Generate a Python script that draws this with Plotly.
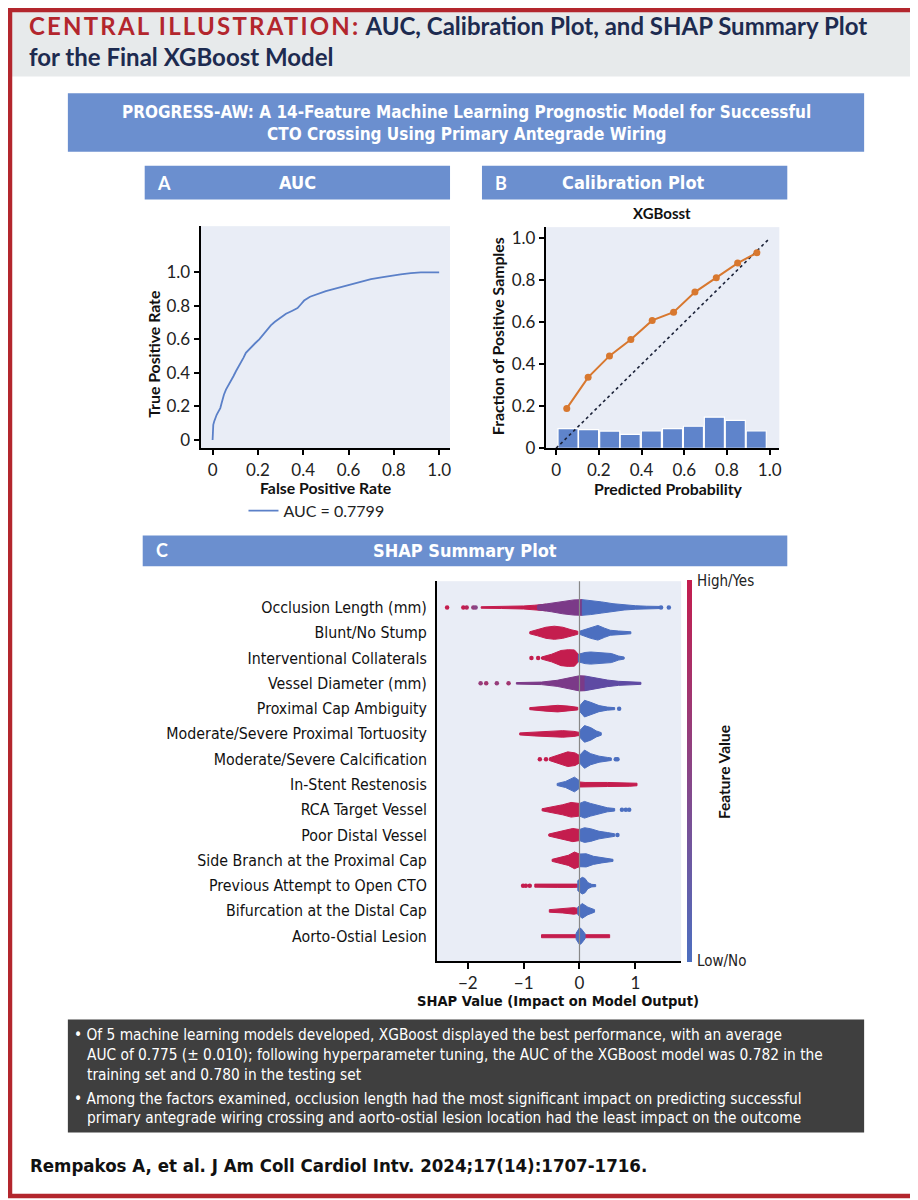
import plotly.graph_objects as go

W, H = 918, 1200


def px(x):
    return x / W


def py(y):
    return 1 - y / H


# ---------------- data ----------------
# Panel A: ROC curve
fpr = [0, 0, 0.003, 0.007, 0.012, 0.018, 0.022, 0.03, 0.034, 0.04,
       0.044, 0.05, 0.059, 0.07, 0.081, 0.092, 0.103, 0.114, 0.125, 0.136,
       0.147, 0.16, 0.176, 0.19, 0.206, 0.218, 0.228, 0.243, 0.257, 0.275,
       0.294, 0.31, 0.324, 0.35, 0.375, 0.39, 0.404, 0.43, 0.463, 0.5,
       0.537, 0.575, 0.61, 0.655, 0.699, 0.745, 0.787, 0.83, 0.875, 0.9,
       0.919, 0.96, 1.0]
tpr = [0, 0.053, 0.09, 0.11, 0.135, 0.15, 0.16, 0.175, 0.19, 0.22,
       0.25, 0.27, 0.30, 0.325, 0.35, 0.38, 0.41, 0.435, 0.46, 0.49,
       0.52, 0.54, 0.56, 0.58, 0.60, 0.62, 0.635, 0.66, 0.684, 0.705,
       0.724, 0.74, 0.753, 0.77, 0.787, 0.81, 0.832, 0.855, 0.872, 0.888,
       0.901, 0.915, 0.931, 0.946, 0.96, 0.97, 0.98, 0.988, 0.996, 1.0,
       1.0, 1.0, 1.0]
auc_label = "AUC = 0.7799"

# Panel B: calibration
cal_pred = [0.05, 0.15, 0.25, 0.35, 0.45, 0.55, 0.65, 0.75, 0.85, 0.94]
cal_frac = [0.19, 0.338, 0.44, 0.518, 0.609, 0.648, 0.744, 0.812, 0.882, 0.931]
hist_centers = [0.056, 0.152, 0.251, 0.347, 0.446, 0.545, 0.643, 0.741, 0.839, 0.937]
hist_heights = [0.094, 0.089, 0.082, 0.066, 0.083, 0.094, 0.105, 0.148, 0.133, 0.083]
diag = [0, 1]

# Panel C: SHAP summary (envelopes of swarms)
features = ["Occlusion Length (mm)", "Blunt/No Stump", "Interventional Collaterals",
            "Vessel Diameter (mm)", "Proximal Cap Ambiguity",
            "Moderate/Severe Proximal Tortuosity", "Moderate/Severe Calcification",
            "In-Stent Restenosis", "RCA Target Vessel", "Poor Distal Vessel",
            "Side Branch at the Proximal Cap", "Previous Attempt to Open CTO",
            "Bifurcation at the Distal Cap", "Aorto-Ostial Lesion"]

# (row, shap x positions, half thickness in row units)
red_swarms = [
    (0, [-1.76, -1.4, -1.0, -0.8, -0.6], [0.03, 0.04, 0.06, 0.09, 0.13]),
    (1, [-0.89, -0.75, -0.6, -0.45, -0.3, -0.15, -0.03], [0.04, 0.12, 0.22, 0.26, 0.22, 0.12, 0.06]),
    (2, [-0.68, -0.5, -0.33, -0.2, -0.09, -0.02], [0.04, 0.15, 0.3, 0.33, 0.32, 0.15]),
    (4, [-0.89, -0.6, -0.39, -0.2, -0.03], [0.04, 0.1, 0.13, 0.1, 0.05]),
    (5, [-1.07, -0.8, -0.5, -0.3, -0.1, 0.0], [0.04, 0.08, 0.12, 0.13, 0.1, 0.06]),
    (6, [-0.54, -0.4, -0.21, -0.08, 0.0], [0.05, 0.15, 0.29, 0.25, 0.15]),
    (7, [0.0, 0.1, 0.5, 0.9, 1.03], [0.1, 0.08, 0.08, 0.07, 0.05]),
    (8, [-0.67, -0.5, -0.3, -0.15, 0.0], [0.04, 0.1, 0.2, 0.29, 0.25]),
    (9, [-0.55, -0.4, -0.25, -0.12, 0.0], [0.04, 0.12, 0.2, 0.26, 0.22]),
    (10, [-0.49, -0.35, -0.2, -0.09, 0.0], [0.04, 0.12, 0.2, 0.33, 0.25]),
    (11, [-0.8, -0.4, -0.1, -0.03], [0.06, 0.07, 0.07, 0.06]),
    (12, [-0.54, -0.3, -0.1, -0.03], [0.05, 0.08, 0.13, 0.1]),
    (13, [-0.68, -0.3, 0.0, 0.3, 0.54], [0.06, 0.065, 0.065, 0.065, 0.06]),
]
purple_swarms = [
    (0, [-0.75, -0.5, -0.3, -0.1, 0.05], [0.09, 0.17, 0.25, 0.3, 0.31]),
    (3, [-1.13, -0.9, -0.68, -0.4, -0.2, 0.0, 0.1], [0.03, 0.04, 0.05, 0.12, 0.22, 0.3, 0.29]),
]
bluepurple_swarms = [
    (3, [0.1, 0.3, 0.5, 0.7, 0.9, 1.1], [0.29, 0.2, 0.13, 0.08, 0.05, 0.04]),
]
blue_swarms = [
    (0, [0.05, 0.2, 0.4, 0.6, 0.8, 1.0, 1.2, 1.48], [0.31, 0.28, 0.22, 0.15, 0.1, 0.07, 0.05, 0.04]),
    (1, [0.0, 0.1, 0.2, 0.33, 0.45, 0.55, 0.7, 0.92], [0.06, 0.13, 0.22, 0.29, 0.18, 0.1, 0.07, 0.04]),
    (2, [-0.02, 0.1, 0.2, 0.4, 0.57, 0.7, 0.8], [0.15, 0.22, 0.24, 0.22, 0.18, 0.08, 0.04]),
    (4, [0.0, 0.09, 0.2, 0.35, 0.5, 0.63], [0.1, 0.33, 0.25, 0.12, 0.06, 0.04]),
    (5, [0.0, 0.09, 0.2, 0.3, 0.39], [0.12, 0.33, 0.25, 0.12, 0.05]),
    (6, [0.0, 0.09, 0.2, 0.35, 0.5, 0.57], [0.15, 0.36, 0.22, 0.12, 0.07, 0.05]),
    (7, [-0.4, -0.25, -0.09, 0.0], [0.04, 0.12, 0.29, 0.15]),
    (8, [0.0, 0.09, 0.2, 0.35, 0.5, 0.63], [0.25, 0.33, 0.25, 0.15, 0.08, 0.05]),
    (9, [0.0, 0.09, 0.2, 0.35, 0.5, 0.63], [0.22, 0.29, 0.25, 0.15, 0.1, 0.05]),
    (10, [0.0, 0.12, 0.25, 0.4, 0.55, 0.6], [0.25, 0.26, 0.16, 0.1, 0.05, 0.04]),
    (11, [-0.03, 0.05, 0.1, 0.15, 0.22, 0.29], [0.2, 0.33, 0.28, 0.12, 0.05, 0.04]),
    (12, [-0.03, 0.05, 0.15, 0.27], [0.15, 0.29, 0.15, 0.05]),
    (13, [-0.06, 0.0, 0.03, 0.1], [0.12, 0.33, 0.3, 0.1]),
]
# isolated dots
dot_x = [-2.37, -2.08, -2.02, -1.9, -1.86, 1.46, 1.6,
         -0.86, -0.74,
         -1.77, -1.67, -1.48, -1.27,
         0.71, -0.71, -0.6, 0.65, 0.68,
         0.76, 0.83, 0.89, 0.68,
         -1.01, -0.96, -0.89]
dot_row = [0, 0, 0, 0, 0, 0, 0,
           2, 2,
           3, 3, 3, 3,
           4, 6, 6, 6, 6,
           8, 8, 8, 9,
           11, 11, 11]
dot_val = [1.0, 1.0, 0.9, 0.6, 0.5, 0.0, 0.0,
           1.0, 1.0,
           0.6, 0.7, 0.6, 0.7,
           0.0, 1.0, 1.0, 0.0, 0.0,
           0.0, 0.0, 0.0, 0.0,
           1.0, 1.0, 1.0]

# ---------------- styles ----------------
RED = "#c41d4e"
BLUE = "#4c6fc0"
PURPLE = "#7b3a88"
BLUEPURPLE = "#5e4aa3"
HEAD = "#6b8fcf"
PLOTBG = "#e9edf6"
NAVY = "#1d2b50"
TICKFONT = dict(family="Lato, Open Sans, sans-serif", size=17, color="#222222")
COND = "Liberation Sans Narrow, DejaVu Sans Condensed, Roboto, sans-serif"
SHAP_SCALE = [[0, BLUE], [0.5, "#8a4586"], [1, RED]]

fig = go.Figure()

# Panel A
fig.add_trace(go.Scatter(x=fpr, y=tpr, mode="lines", name=auc_label,
                         line=dict(color="#5b80c8", width=1.8),
                         xaxis="x", yaxis="y", showlegend=True))

# Panel B
fig.add_trace(go.Bar(x=hist_centers, y=hist_heights, width=0.094,
                     marker=dict(color="#5f84cb", line=dict(color="white", width=1.2)),
                     xaxis="x2", yaxis="y2", showlegend=False))
fig.add_trace(go.Scatter(x=diag, y=diag, mode="lines",
                         line=dict(color="#1b2238", width=1.6, dash="dot"),
                         xaxis="x2", yaxis="y2", showlegend=False))
fig.add_trace(go.Scatter(x=cal_pred, y=cal_frac, mode="lines+markers",
                         line=dict(color="#d8782f", width=2),
                         marker=dict(color="#d8782f", size=7),
                         xaxis="x2", yaxis="y2", showlegend=False))


# Panel C swarms
def swarm_trace(items, color):
    X, Y = [], []
    for row, xs, hs in items:
        X += list(xs) + list(xs[::-1]) + [xs[0], None]
        Y += [row - h for h in hs] + [row + h for h in hs[::-1]] + [row - hs[0], None]
    return go.Scatter(x=X, y=Y, mode="lines", fill="toself", fillcolor=color,
                      line=dict(color=color, width=1), xaxis="x3", yaxis="y3",
                      hoverinfo="skip", showlegend=False)


fig.add_trace(swarm_trace(red_swarms, RED))
fig.add_trace(swarm_trace(purple_swarms, PURPLE))
fig.add_trace(swarm_trace(bluepurple_swarms, BLUEPURPLE))
fig.add_trace(swarm_trace(blue_swarms, BLUE))
fig.add_trace(go.Scatter(x=dot_x, y=dot_row, mode="markers",
                         marker=dict(size=4.5, color=dot_val, colorscale=SHAP_SCALE,
                                     cmin=0, cmax=1),
                         xaxis="x3", yaxis="y3", showlegend=False))
# colorbar carrier (point outside the visible range)
fig.add_trace(go.Scatter(x=[0], y=[-5], mode="markers",
                         marker=dict(size=1, color=[0], colorscale=SHAP_SCALE, cmin=0, cmax=1,
                                     showscale=True,
                                     colorbar=dict(x=px(680), xanchor="left", xpad=0, ypad=0,
                                                   y=py((577 + 962) / 2), yanchor="middle",
                                                   len=(962 - 577) / H, lenmode="fraction",
                                                   thickness=5, outlinewidth=0,
                                                   showticklabels=False, ticks="")),
                         xaxis="x3", yaxis="y3", showlegend=False))

axis_common = dict(showline=True, linecolor="black", linewidth=2, ticks="outside",
                   ticklen=5, tickwidth=1.5, tickcolor="black", showgrid=False,
                   zeroline=False, tickfont=TICKFONT, mirror=False, fixedrange=True)
ticks01 = [0, 0.2, 0.4, 0.6, 0.8, 1.0]
labels01 = ["0", "0.2", "0.4", "0.6", "0.8", "1.0"]

fig.update_layout(
    width=W, height=H, margin=dict(l=0, r=0, t=0, b=0),
    paper_bgcolor="white", plot_bgcolor=PLOTBG,
    xaxis=dict(axis_common, domain=[px(193), px(443)], anchor="y",
               range=[-0.053, 1.048], tickvals=ticks01, ticktext=labels01),
    yaxis=dict(axis_common, domain=[py(444), py(220)], anchor="x",
               range=[-0.05, 1.276], tickvals=ticks01, ticktext=labels01),
    xaxis2=dict(axis_common, domain=[px(539), px(773)], anchor="y2",
                range=[-0.048, 1.045], tickvals=ticks01, ticktext=labels01),
    yaxis2=dict(axis_common, domain=[py(444), py(221)], anchor="x2",
                range=[0, 1.053], tickvals=ticks01, ticktext=labels01),
    xaxis3=dict(axis_common, domain=[px(430), px(674.6)], anchor="y3",
                range=[-2.55, 1.82], tickvals=[-2, -1, 0, 1], ticklen=6),
    yaxis3=dict(axis_common, domain=[py(961), py(578)], anchor="x3",
                range=[13.98, -1.04], tickvals=list(range(len(features))),
                ticktext=features, ticks="", ticklen=0, ticklabelstandoff=5,
                tickfont=dict(family=COND, size=15.8, color="#111111")),
    legend=dict(x=px(236), y=py(507), xanchor="left", yanchor="middle",
                bgcolor="rgba(0,0,0,0)", font=dict(family="Lato, sans-serif", size=16, color="#222"),
                itemwidth=30),
    showlegend=True,
)

shapes = []
# header gray band
shapes.append(dict(type="rect", xref="paper", yref="paper", x0=0, x1=1, y0=py(69), y1=1,
                   fillcolor="#e7eaeb", line=dict(width=0), layer="below"))
# banners
for (x0, x1, y0, y1) in [(60, 858, 86, 145), (137, 443, 159, 193), (475, 781, 159, 193),
                         (135, 781, 532, 563)]:
    shapes.append(dict(type="rect", xref="paper", yref="paper", x0=px(x0), x1=px(x1),
                       y0=py(y1), y1=py(y0), fillcolor=HEAD, line=dict(width=0)))
# dark key-points box
shapes.append(dict(type="rect", xref="paper", yref="paper", x0=px(60), x1=px(858),
                   y0=py(1134), y1=py(1020), fillcolor="#3f3f3f", line=dict(width=0)))
# zero line in SHAP panel
shapes.append(dict(type="line", xref="x3", yref="y3 domain", x0=0, x1=0, y0=0, y1=1,
                   line=dict(color="#888888", width=1.2), layer="above"))
# red outer frame
shapes.append(dict(type="rect", xref="paper", yref="paper", x0=px(2), x1=px(916),
                   y0=py(1198), y1=py(2), line=dict(color="#b3262d", width=4.5)))
fig.update_layout(shapes=shapes)

ann = []


def text(x, y, s, size, color="black", family=COND, bold=False, xanchor="center",
         angle=0, weight=None):
    ann.append(dict(x=px(x), y=py(y), xref="paper", yref="paper", text=s, showarrow=False,
                    xanchor=xanchor, yanchor="middle", textangle=angle, align="left",
                    font=dict(family=family, size=size, color=color,
                              weight=weight if weight else (700 if bold else 400))))


TITLEF = "Lato, Open Sans, sans-serif"
text(19, 33, "<span style='color:#b3262d;letter-spacing:2.2px'>CENTRAL ILLUSTRATION:</span>"
     " AUC, Calibration Plot, and SHAP Summary Plot<br>for the Final XGBoost Model",
     24, NAVY, TITLEF, bold=True, xanchor="left")

text(459, 105, "PROGRESS-AW: A 14-Feature Machine Learning Prognostic Model for Successful",
     17, "white", COND, bold=True)
text(459, 127, "CTO Crossing Using Primary Antegrade Wiring", 17, "white", COND, bold=True)

text(147, 176, "A", 18, "white", TITLEF, bold=True, xanchor="left")
text(290, 176, "AUC", 18, "white", COND, bold=True)
text(486, 176, "B", 18, "white", TITLEF, bold=True, xanchor="left")
text(627, 176, "Calibration Plot", 18, "white", COND, bold=True)
text(146, 547, "C", 18, "white", TITLEF, bold=True, xanchor="left")
text(458, 547, "SHAP Summary Plot", 18, "white", COND, bold=True)

AXT = "Lato, Roboto, sans-serif"
text(318, 484, "False Positive Rate", 15.8, "#111", AXT, bold=True)
text(145, 349, "True Positive Rate", 15.8, "#111", AXT, bold=True, angle=-90)
text(655, 207, "XGBosst", 15, "#111", AXT, bold=True)
text(662, 485, "Predicted Probability", 15.8, "#111", AXT, bold=True)
text(490, 331, "Fraction of Positive Samples", 15.8, "#111", AXT, bold=True, angle=-90)

text(551, 1001, "SHAP Value (Impact on Model Output)", 14.6, "#111", COND, bold=True)
text(689, 578, "High/Yes", 15, "#222", COND, xanchor="left")
text(689, 961, "Low/No", 15, "#222", COND, xanchor="left")
text(717, 770, "Feature Value", 15.5, "#111", AXT, bold=True, angle=-90)

text(64, 1036, "\u2022 Of 5 machine learning models developed, XGBoost displayed the best performance, with an average",
     15.3, "white", COND, xanchor="left")
text(77, 1056, "AUC of 0.775 (\u00b1 0.010); following hyperparameter tuning, the AUC of the XGBoost model was 0.782 in the",
     15.3, "white", COND, xanchor="left")
text(77, 1076, "training set and 0.780 in the testing set", 15.3, "white", COND, xanchor="left")
text(64, 1100, "\u2022 Among the factors examined, occlusion length had the most significant impact on predicting successful",
     15.3, "white", COND, xanchor="left")
text(77, 1119, "primary antegrade wiring crossing and aorto-ostial lesion location had the least impact on the outcome",
     15.3, "white", COND, xanchor="left")

text(20, 1167, "Rempakos A, et al. J Am Coll Cardiol Intv. 2024;17(14):1707-1716.", 18.5, "#111",
     COND, bold=True, xanchor="left")

fig.update_layout(annotations=ann)
fig.write_html("out.html")
